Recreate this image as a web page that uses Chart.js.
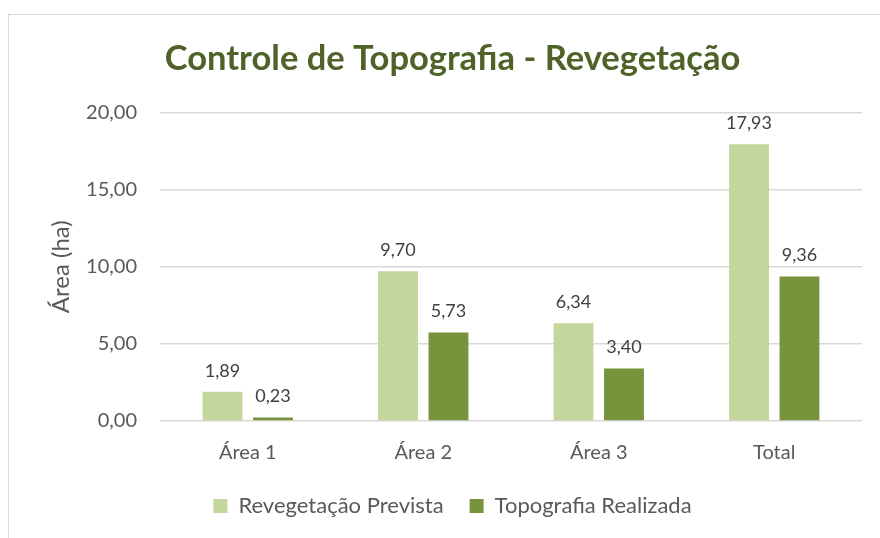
<!DOCTYPE html>
<html>
<head>
<meta charset="utf-8">
<script src="https://cdn.jsdelivr.net/npm/chart.js@4.4.1/dist/chart.umd.min.js"></script>
<style>
  html, body { margin: 0; padding: 0; background: #fff; overflow: hidden; }
  .moldura {
    position: absolute; left: 8px; top: 14px;
    width: 900px; height: 600px;
    border: 1px solid #d9d9d9;
  }
  .grafico { position: absolute; left: 0; top: 0; width: 880px; height: 538px; }
</style>
</head>
<body>
<div class="moldura"></div>
<div class="grafico"><canvas id="graficoTopografia"></canvas></div>
<script>
/* ============================================================
   DADOS
============================================================ */
const categorias = ["Área 1", "Área 2", "Área 3", "Total"];
const revegetacaoPrevista = [1.89, 9.70, 6.34, 17.93];
const topografiaRealizada = [0.23, 5.73, 3.40, 9.36];
const ticksY = [0, 5, 10, 15, 20];

const fonte = "Lato, 'Open Sans', sans-serif";
const formatar = (v) => Number(v).toFixed(2).replace(".", ",");

/* ============================================================
   RÓTULOS DE DADOS (acima das barras)
============================================================ */
const rotulos = {
  id: "rotulos",
  afterDatasetsDraw(chart) {
    const ctx = chart.ctx;
    ctx.save();
    ctx.font = "18px " + fonte;
    ctx.fillStyle = "#404040";
    ctx.textAlign = "center";
    ctx.textBaseline = "bottom";
    chart.data.datasets.forEach((ds, i) => {
      chart.getDatasetMeta(i).data.forEach((bar, j) => {
        ctx.fillText(formatar(ds.data[j]), bar.x, bar.y - 12);
      });
    });
    ctx.restore();
  },
};

new Chart(document.getElementById("graficoTopografia"), {
  type: "bar",
  data: {
    labels: categorias,
    datasets: [
      {
        label: "Revegetação Prevista",
        data: revegetacaoPrevista,
        backgroundColor: "#c3d69b",
        barPercentage: 0.79,
        categoryPercentage: 0.575,
      },
      {
        label: "Topografia Realizada",
        data: topografiaRealizada,
        backgroundColor: "#77933c",
        barPercentage: 0.79,
        categoryPercentage: 0.575,
      },
    ],
  },
  options: {
    responsive: true,
    maintainAspectRatio: false,
    animation: false,
    layout: { padding: { left: 43, right: 18, top: 22, bottom: 11 } },
    plugins: {
      title: {
        display: true,
        text: "Controle de Topografia - Revegetação",
        color: "#4f6228",
        font: { family: fonte, size: 34.5, weight: "bold" },
        padding: { top: 16, bottom: 33 },
      },
      legend: {
        position: "bottom",
        labels: {
          color: "#595959",
          font: { family: fonte, size: 22 },
          boxWidth: 14,
          boxHeight: 14,
          padding: 26,
        },
      },
      tooltip: { enabled: false },
    },
    scales: {
      x: {
        grid: { display: false },
        border: { display: false },
        ticks: { color: "#595959", font: { family: fonte, size: 20 }, padding: 12 },
        afterFit: (axis) => { axis.height = 48; },
      },
      y: {
        min: 0,
        max: 20,
        afterBuildTicks: (axis) => {
          axis.ticks = ticksY.map((v) => ({ value: v }));
        },
        afterFit: (axis) => { axis.width = 117; },
        grid: { color: "#d9d9d9", lineWidth: 1.5, drawTicks: false },
        border: { display: false },
        ticks: {
          color: "#595959",
          font: { family: fonte, size: 20 },
          padding: 23,
          callback: (v) => formatar(v),
        },
        title: {
          display: true,
          text: "Área (ha)",
          color: "#595959",
          font: { family: fonte, size: 24 },
          padding: { top: 4, bottom: 0 },
        },
      },
    },
  },
  plugins: [rotulos],
});
</script>
</body>
</html>
